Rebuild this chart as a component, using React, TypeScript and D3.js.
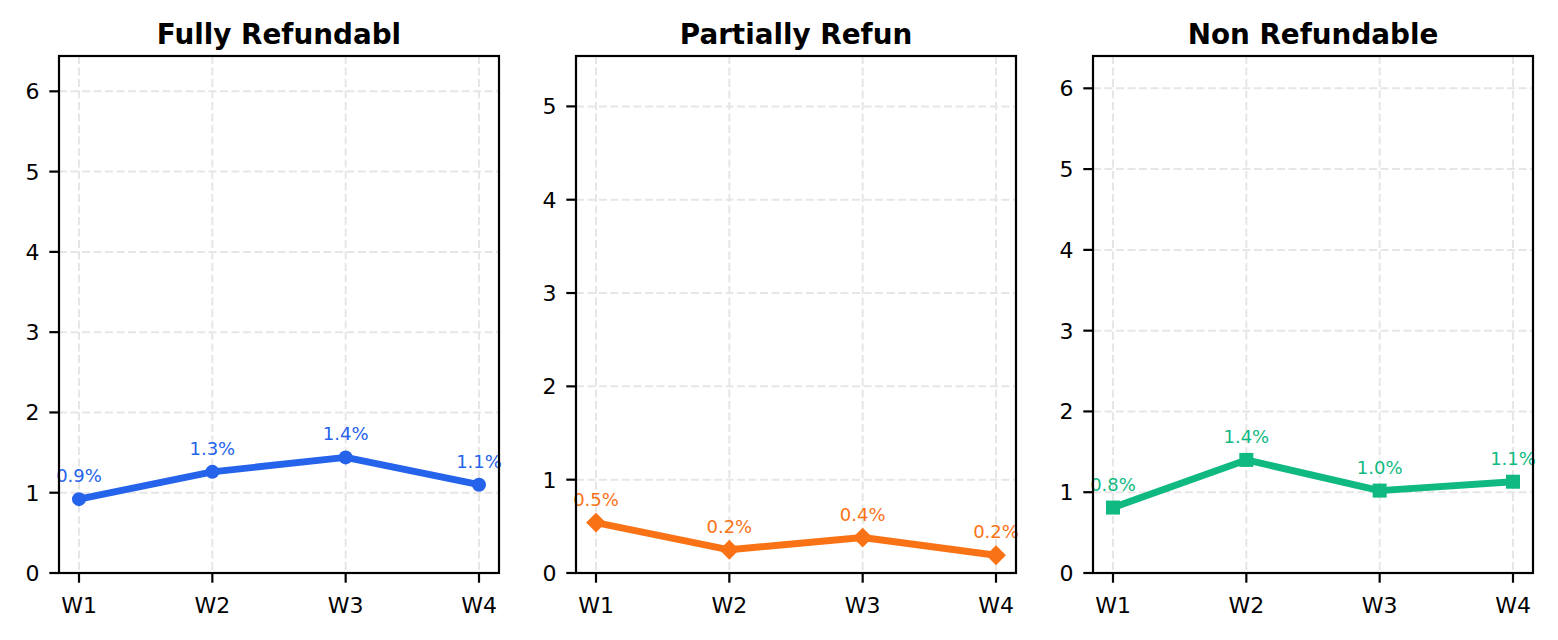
import React, { useEffect, useRef } from "react";
import * as d3 from "d3";

// chart data
const weeks = ["W1", "W2", "W3", "W4"];
const panelTitles = ["Fully Refundabl", "Partially Refun", "Non Refundable"];
const fullyRefundable = [0.92, 1.26, 1.44, 1.1];
const partiallyRefundable = [0.54, 0.249, 0.38, 0.19];
const nonRefundable = [0.81, 1.4, 1.02, 1.13];
const seriesColors = ["#2563eb", "#f97316", "#10b981"];
const seriesMarkers = ["circle", "diamond", "square"];

const WIDTH = 1558;
const HEIGHT = 640;
const FONT = "DejaVu Sans, sans-serif";

export default function App() {
    const ref = useRef<SVGSVGElement>(null);

    useEffect(() => {
        const svg = d3.select(ref.current);
        svg.selectAll("*").remove();
        svg.append("rect").attr("width", WIDTH).attr("height", HEIGHT).attr("fill", "#fff");

        const allSeries = [fullyRefundable, partiallyRefundable, nonRefundable];
        const panelWidth = 440;
        const panelGap = 77;
        const top = 56;
        const bottom = 573;
        const pct = d3.format(".1f");

        allSeries.forEach((values, i) => {
            const left = 59 + i * (panelWidth + panelGap);
            const right = left + panelWidth;
            const color = seriesColors[i];

            const x = d3.scalePoint<string>().domain(weeks).range([left, right]).padding(0.15);
            const y = d3.scaleLinear().domain([0, (d3.max(values) as number) + 5]).range([bottom, top]);
            const yTicks = d3.range(0, Math.floor(y.domain()[1]) + 1);

            const g = svg.append("g");

            // grid
            g.selectAll("line.vgrid")
                .data(weeks)
                .enter()
                .append("line")
                .attr("x1", d => x(d) as number)
                .attr("x2", d => x(d) as number)
                .attr("y1", top)
                .attr("y2", bottom)
                .attr("stroke", "#e6e6e6")
                .attr("stroke-width", 2)
                .attr("stroke-dasharray", "8,3.5");
            g.selectAll("line.hgrid")
                .data(yTicks)
                .enter()
                .append("line")
                .attr("x1", left)
                .attr("x2", right)
                .attr("y1", d => y(d))
                .attr("y2", d => y(d))
                .attr("stroke", "#e6e6e6")
                .attr("stroke-width", 2)
                .attr("stroke-dasharray", "8,3.5");

            // line
            const line = d3.line<number>()
                .x((_, j) => x(weeks[j]) as number)
                .y(d => y(d));
            g.append("path")
                .datum(values)
                .attr("d", line)
                .attr("fill", "none")
                .attr("stroke", color)
                .attr("stroke-width", 6.9)
                .attr("stroke-linejoin", "round");

            // markers
            const marker = seriesMarkers[i];
            const size = 14;
            const symbolType = marker === "circle" ? d3.symbolCircle : d3.symbolSquare;
            const area = marker === "circle" ? Math.PI * (size / 2) ** 2 : size * size;
            g.selectAll("path.marker")
                .data(values)
                .enter()
                .append("path")
                .attr("d", d3.symbol().type(symbolType).size(area)())
                .attr("transform", (d, j) =>
                    `translate(${x(weeks[j])},${y(d)})` + (marker === "diamond" ? " rotate(45)" : ""))
                .attr("fill", color);

            // value labels
            g.selectAll("text.value")
                .data(values)
                .enter()
                .append("text")
                .attr("x", (_, j) => x(weeks[j]) as number)
                .attr("y", d => y(d) - 17)
                .attr("text-anchor", "middle")
                .attr("font-family", FONT)
                .attr("font-size", 18)
                .attr("fill", color)
                .text(d => `${pct(d)}%`);

            // spines
            g.append("rect")
                .attr("x", left)
                .attr("y", top)
                .attr("width", panelWidth)
                .attr("height", bottom - top)
                .attr("fill", "none")
                .attr("stroke", "#000")
                .attr("stroke-width", 2.2);

            // x ticks
            const xt = g.selectAll("g.xtick").data(weeks).enter().append("g");
            xt.append("line")
                .attr("x1", d => x(d) as number)
                .attr("x2", d => x(d) as number)
                .attr("y1", bottom)
                .attr("y2", bottom + 9.7)
                .attr("stroke", "#000")
                .attr("stroke-width", 2.2);
            xt.append("text")
                .attr("x", d => x(d) as number)
                .attr("y", bottom + 39.5)
                .attr("text-anchor", "middle")
                .attr("font-family", FONT)
                .attr("font-size", 22)
                .attr("fill", "#000")
                .text(d => d);

            // y ticks
            const yt = g.selectAll("g.ytick").data(yTicks).enter().append("g");
            yt.append("line")
                .attr("x1", left - 9.7)
                .attr("x2", left)
                .attr("y1", d => y(d))
                .attr("y2", d => y(d))
                .attr("stroke", "#000")
                .attr("stroke-width", 2.2);
            yt.append("text")
                .attr("x", left - 19.4)
                .attr("y", d => y(d))
                .attr("dy", "0.36em")
                .attr("text-anchor", "end")
                .attr("font-family", FONT)
                .attr("font-size", 22)
                .attr("fill", "#000")
                .text(d => d);

            // title
            g.append("text")
                .attr("x", (left + right) / 2)
                .attr("y", 44)
                .attr("text-anchor", "middle")
                .attr("font-family", FONT)
                .attr("font-weight", "bold")
                .attr("font-size", 27.8)
                .attr("fill", "#000")
                .text(panelTitles[i]);
        });
    }, []);

    return (
        <svg
            ref={ref}
            width={WIDTH}
            height={HEIGHT}
            style={{ position: "absolute", left: 0, top: 0, display: "block" }}
        />
    );
}
